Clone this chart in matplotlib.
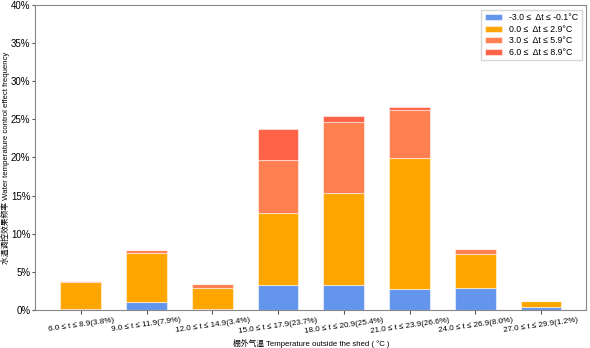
import matplotlib
matplotlib.use("Agg")
import matplotlib.pyplot as plt
import numpy as np

plt.rcParams['font.family'] = ['Liberation Sans', 'Noto Sans CJK SC', 'DejaVu Sans']

categories = ["6.0 ≤ t ≤ 8.9(3.8%)", "9.0 ≤ t ≤ 11.9(7.9%)", "12.0 ≤ t ≤ 14.9(3.4%)",
              "15.0 ≤ t ≤ 17.9(23.7%)", "18.0 ≤ t ≤ 20.9(25.4%)", "21.0 ≤ t ≤ 23.9(26.6%)",
              "24.0 ≤ t ≤ 26.9(8.0%)", "27.0 ≤ t ≤ 29.9(1.2%)"]
series_labels = ["-3.0 ≤  Δt ≤ -0.1°C", "0.0 ≤  Δt ≤ 2.9°C", "3.0 ≤  Δt ≤ 5.9°C", "6.0 ≤  Δt ≤ 8.9°C"]
s_neg = [0.05, 1.0, 0.05, 3.2, 3.2, 2.7, 2.8, 0.4]
s_low = [3.55, 6.4, 2.85, 9.5, 12.1, 17.2, 4.5, 0.8]
s_mid = [0.2, 0.5, 0.5, 7.0, 9.4, 6.4, 0.7, 0.0]
s_high = [0.0, 0.0, 0.0, 4.0, 0.7, 0.3, 0.0, 0.0]
colors = ["cornflowerblue", "orange", "coral", "tomato"]

fig, ax = plt.subplots(figsize=(5.9, 3.48), dpi=100)
x = np.arange(len(categories))
bottom = np.zeros(len(categories))
for vals, lab, c in zip([s_neg, s_low, s_mid, s_high], series_labels, colors):
    v = np.array(vals)
    ax.bar(x, v, width=0.62, bottom=bottom, color=c, edgecolor=(1, 1, 1, 0.5), linewidth=0.8, label=lab)
    bottom += v

ax.set_ylim(0, 40)
ax.set_yticks(np.arange(0, 41, 5))
ax.set_yticklabels([f"{i}%" for i in range(0, 41, 5)], fontsize=7)
ax.set_xticks(x)
ax.set_xticklabels(categories, rotation=8, fontsize=5.8)
ax.set_xlabel("棚外气温 Temperature outside the shed ( °C )", fontsize=5.6, labelpad=3)
ax.set_ylabel("水温调控效果频率 Water temperature control effect frequency", fontsize=5.6)
ax.yaxis.set_label_coords(-0.046, 0.5)
for s in ax.spines.values():
    s.set_color("#888888")
ax.tick_params(axis='x', length=3, color="#555555", pad=2)
ax.tick_params(axis='y', length=2.5, color="#555555", pad=1)
ax.legend(loc="upper right", fontsize=6.3, frameon=True, fancybox=False, edgecolor="#cccccc",
          labelspacing=0.3, borderpad=0.4)
fig.subplots_adjust(left=0.06, right=0.994, top=0.985, bottom=0.11)
fig.savefig("out.png", dpi=100)
